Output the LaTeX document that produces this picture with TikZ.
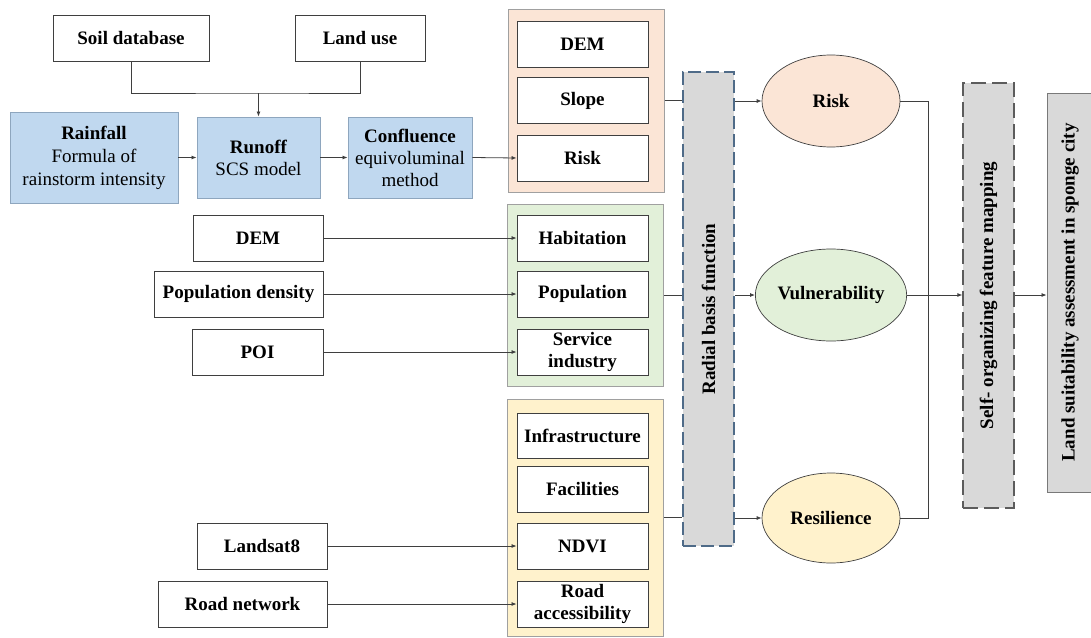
\documentclass[tikz,border=0pt]{standalone}
\usepackage{fontspec}
\setmainfont{Liberation Serif}
\usetikzlibrary{shapes.geometric,arrows.meta}
\definecolor{lblue}{HTML}{C0D8EF}
\definecolor{bblue}{HTML}{8EA6BE}
\definecolor{lorange}{HTML}{FBE5D6}
\definecolor{lgreen}{HTML}{E2F0D9}
\definecolor{lyellow}{HTML}{FFF2CC}
\definecolor{cgray}{HTML}{A0A0A0}
\definecolor{dgray}{HTML}{3F3F3F}
\definecolor{pgray}{HTML}{D9D9D9}
\definecolor{rbfborder}{HTML}{4F6B88}
\begin{document}
\begin{tikzpicture}[x=1pt,y=-1pt,
  every node/.style={font=\fontsize{19pt}{22pt}\selectfont, inner sep=0pt, align=center},
  wbox/.style={draw=dgray, fill=white, line width=0.9pt, font=\fontsize{19pt}{22pt}\selectfont\bfseries},
  bbox/.style={draw=bblue, fill=lblue, line width=0.9pt},
  cont/.style={draw=cgray, line width=1pt},
  ell/.style={ellipse, draw=dgray, line width=0.7pt, minimum width=138pt, minimum height=92pt, font=\fontsize{19pt}{22pt}\selectfont\bfseries},
  conn/.style={draw=dgray, line width=0.8pt},
  arr/.style={conn, -{Latex[length=5pt,width=4pt]}},
  vtext/.style={rotate=90, font=\fontsize{19pt}{22pt}\selectfont\bfseries}
]
\useasboundingbox (0,0) rectangle (1091,637);

% top input boxes
\node[wbox, minimum width=156pt, minimum height=46pt] (soil) at (131,38) {Soil database};
\node[wbox, minimum width=130pt, minimum height=46pt] (landuse) at (360,38) {Land use};

% blue process boxes
\node[bbox, minimum width=168pt, minimum height=91pt] (rain) at (94,157.5) {\textbf{Rainfall}\\[1pt]Formula of\\[1pt]rainstorm intensity};
\node[bbox, minimum width=123pt, minimum height=81pt] (runoff) at (258.5,157.5) {\textbf{Runoff}\\SCS model};
\node[bbox, minimum width=124pt, minimum height=81pt] (confl) at (410,157.5) {\textbf{Confluence}\\equivoluminal\\method};

% containers
\node[cont, fill=lorange, minimum width=156pt, minimum height=183pt] (corange) at (586,100.5) {};
\node[cont, fill=lgreen, minimum width=156pt, minimum height=182pt] (cgreen) at (585.5,295) {};
\node[cont, fill=lyellow, minimum width=156pt, minimum height=237pt] (cyellow) at (585.5,517.5) {};

% inner boxes
\node[wbox, minimum width=131pt, minimum height=46pt] (dem1) at (582.5,44) {DEM};
\node[wbox, minimum width=131pt, minimum height=46pt] (slope) at (582.5,100.5) {Slope};
\node[wbox, minimum width=131pt, minimum height=46pt] (risk1) at (582.5,158) {Risk};
\node[wbox, minimum width=131pt, minimum height=46pt] (habit) at (582.5,238) {Habitation};
\node[wbox, minimum width=131pt, minimum height=46pt] (popu) at (582.5,294) {Population};
\node[wbox, minimum width=131pt, minimum height=46pt] (serv) at (582.5,352) {Service\\industry};
\node[wbox, minimum width=131pt, minimum height=45pt] (infra) at (582.5,435.5) {Infrastructure};
\node[wbox, minimum width=131pt, minimum height=46pt] (facil) at (582.5,489) {Facilities};
\node[wbox, minimum width=131pt, minimum height=46pt] (ndvi) at (582.5,546) {NDVI};
\node[wbox, minimum width=131pt, minimum height=46pt] (roadacc) at (582.5,604) {Road\\accessibility};

% left input boxes
\node[wbox, minimum width=130pt, minimum height=46pt] (dem2) at (258,238) {DEM};
\node[wbox, minimum width=169pt, minimum height=46pt] (popd) at (238.5,294) {Population density};
\node[wbox, minimum width=131pt, minimum height=46pt] (poi) at (257.5,352) {POI};
\node[wbox, minimum width=130pt, minimum height=46pt] (landsat) at (262,546) {Landsat8};
\node[wbox, minimum width=169pt, minimum height=46pt] (roadnet) at (242.5,604) {Road network};

% RBF
\node[draw=rbfborder, fill=pgray, line width=1.1pt, dash pattern=on 13pt off 5pt, minimum width=51pt, minimum height=474pt] (rbf) at (708.5,309) {};
\node[vtext] at (rbf.center) {Radial basis function};

% ellipses
\node[ell, fill=lorange] (risk) at (831,101) {Risk};
\node[ell, fill=lgreen] (vul) at (831,295) {Vulnerability};
\node[ell, fill=lyellow, minimum height=90pt] (resil) at (831,518) {Resilience};

% SOM
\node[draw=dgray!85, fill=pgray, line width=1.3pt, dash pattern=on 15pt off 6pt, minimum width=51pt, minimum height=425pt] (som) at (988.5,295.5) {};
\node[vtext] at (som.center) {Self- organizing feature mapping};

% Land suitability
\node[draw=dgray!70, fill=pgray, line width=0.9pt, minimum width=46pt, minimum height=399pt] (land) at (1070,292.5) {};
\node[vtext] at (land.center) {Land suitability assessment in sponge city};

% connectors
\coordinate (j) at (258.5,93);
\draw[conn] (soil.south) |- (j) -| (landuse.south);
\draw[arr] (j) -- (runoff.north);
\draw[arr] (rain.east) -- (runoff.west);
\draw[arr] (runoff.east) -- (confl.west);
\draw[arr] (confl.east) -- (risk1.west);

\draw[arr] (dem2.east) -- (habit.west);
\draw[arr] (popd.east) -- (popu.west);
\draw[arr] (poi.east) -- (serv.west);
\draw[arr] (landsat.east) -- (ndvi.west);
\draw[arr] (roadnet.east) -- (roadacc.west);

\draw[conn] (corange.east) -- (corange.east -| rbf.west);
\draw[conn] (cgreen.east) -- (cgreen.east -| rbf.west);
\draw[conn] (cyellow.east) -- (cyellow.east -| rbf.west);
\draw[arr] (risk.west -| rbf.east) -- (risk.west);
\draw[arr] (vul.west -| rbf.east) -- (vul.west);
\draw[arr] (resil.west -| rbf.east) -- (resil.west);

\coordinate (rr) at (928,101);
\draw[conn] (risk.east) -- (rr) |- (resil.east);
\draw[arr] (vul.east) -- (vul.east -| som.west);
\draw[arr] (som.east |- vul.east) -- (vul.east -| land.west);
\end{tikzpicture}
\end{document}
